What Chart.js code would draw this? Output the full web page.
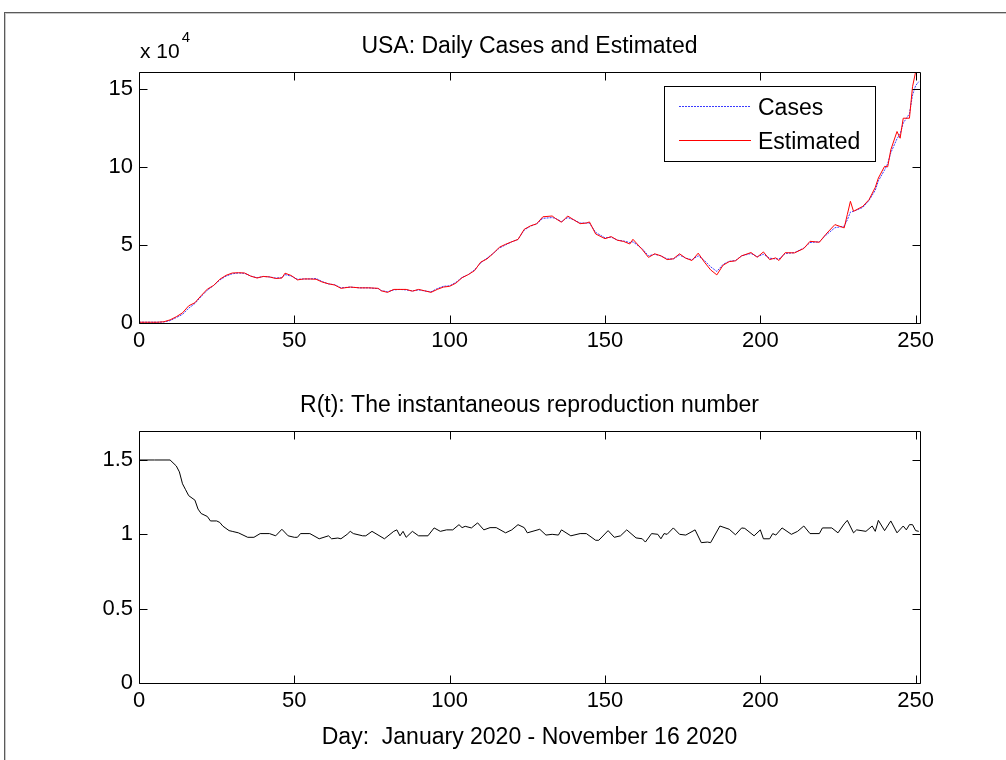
<!DOCTYPE html>
<html>
<head>
<meta charset="utf-8">
<script src="https://cdn.jsdelivr.net/npm/chart.js@4.4.1/dist/chart.umd.min.js"></script>
<style>
  html, body { margin: 0; padding: 0; background: #fff; }
  #page { position: relative; width: 1006px; height: 760px; overflow: hidden; background: #fff; }
  #frame { position: absolute; left: 4px; top: 12px; width: 1010px; height: 760px;
           border-left: 1px solid #5a5a5a; border-top: 1px solid #5a5a5a; }
  #frame-in { position: absolute; left: 0; top: 0; width: 100%; height: 100%;
              border-left: 1px solid #c8c8c8; border-top: 1px solid #c8c8c8; }
  canvas { position: absolute; left: 0; }
  #casesChart { top: 0; }
  #rtChart { top: 380px; }
</style>
</head>
<body>
<div id="page">
  <div id="frame"><div id="frame-in"></div></div>
  <canvas id="casesChart" width="1006" height="380"></canvas>
  <canvas id="rtChart" width="1006" height="380"></canvas>
</div>
<script>
// ==========================================
// DATA
// ==========================================
// top panel: daily cases, in units of 10^4
const caseDays = [0,2,4,6,8,10,12,14,16,18,20,22,24,26,28,30,32,34,36,38,40,42,44,46,47,49,51,53,55,57,59,61,63,65,68,71,74,77,78,80,82,84,86,88,90,92,94,96,98,100,102,104,106,108,110,112,114,116,118,120,122,124,126,128,130,133,134,136,138,140,142,144,145,147,150,152,154,156,158,159,162,164,166,168,170,172,174,176,178,180,182,184,186,188,190,192,194,197,199,201,203,205,206,208,211,214,216,219,221,224,227,228,229,230,233,235,237,238,240,241,242,244,245,246,248,249,250,251];

const casesE4 = [0.05,0.05,0.05,0.05,0.07,0.15,0.35,0.55,0.95,1.25,1.7,2.1,2.4,2.75,3.0,3.15,3.2,3.18,3.0,2.9,2.98,2.95,2.88,2.9,3.1,3.0,2.8,2.82,2.82,2.85,2.65,2.5,2.45,2.25,2.3,2.25,2.25,2.2,2.08,2.0,2.12,2.15,2.12,2.05,2.12,2.05,2.0,2.2,2.35,2.38,2.6,2.92,3.1,3.4,3.85,4.15,4.45,4.8,5.0,5.2,5.35,5.95,6.2,6.35,6.7,6.75,6.7,6.5,6.75,6.6,6.4,6.4,6.4,5.8,5.45,5.5,5.3,5.25,5.15,5.2,4.75,4.3,4.4,4.3,4.1,4.1,4.35,4.15,4.05,4.3,4.0,3.6,3.3,3.75,3.95,4.0,4.3,4.45,4.25,4.4,4.15,4.1,4.1,4.45,4.5,4.8,5.15,5.2,5.6,6.1,6.2,6.6,7.1,7.15,7.4,7.85,8.5,9.1,9.8,10.2,10.9,11.8,12.1,12.8,13.4,14.6,15.2,15.45];

const estimatedE4 = [0.05,0.05,0.05,0.05,0.08,0.2,0.4,0.65,1.1,1.3,1.75,2.17,2.4,2.8,3.05,3.2,3.22,3.2,3.0,2.88,2.98,2.95,2.85,2.88,3.19,3.04,2.76,2.82,2.82,2.8,2.62,2.51,2.43,2.22,2.3,2.25,2.25,2.22,2.06,1.96,2.15,2.15,2.15,2.04,2.15,2.06,1.96,2.15,2.3,2.35,2.55,2.9,3.1,3.35,3.9,4.1,4.45,4.85,5.04,5.2,5.35,6.0,6.22,6.35,6.8,6.85,6.7,6.45,6.85,6.6,6.36,6.4,6.47,5.7,5.4,5.53,5.3,5.22,5.06,5.36,4.7,4.2,4.43,4.3,4.06,4.11,4.43,4.15,4.0,4.47,3.9,3.4,3.08,3.7,3.93,3.98,4.3,4.51,4.21,4.55,4.06,4.17,4.0,4.5,4.49,4.77,5.23,5.17,5.66,6.3,6.09,6.94,7.79,7.15,7.47,7.9,8.68,9.28,10.03,10.0,11.09,12.26,11.83,13.11,13.11,15.13,16.09,16.1];

// bottom panel: R(t)
const rDays = [0,5,10,12,13,14,15,16,18,19,20,22,23,25,26,27,29,30,32,35,37,39,42,44,46,48,50,51,52,55,58,61,62,64,65,67,68,69,72,73,75,79,82,83,84,85,86,88,90,93,95,97,99,101,103,104,105,107,109,111,113,115,118,120,122,124,125,129,131,133,135,136,139,142,144,147,148,151,153,155,157,160,162,163,165,167,168,169,170,172,174,176,179,181,183,184,187,190,192,194,195,198,200,201,203,204,205,207,210,212,214,216,219,220,223,225,227,228,230,231,234,236,237,238,240,242,244,246,247,248,249,250,251];

const rValues = [1.5,1.5,1.5,1.46,1.42,1.34,1.3,1.26,1.23,1.17,1.14,1.12,1.09,1.09,1.08,1.055,1.025,1.02,1.01,0.98,0.98,1.005,1.005,0.99,1.034,0.99,0.98,0.98,1.005,1.005,0.97,0.99,0.97,0.975,0.97,1.0,1.02,1.005,0.99,0.99,1.02,0.97,1.02,1.03,0.99,1.02,0.98,1.02,0.99,0.99,1.043,1.02,1.03,1.03,1.065,1.045,1.054,1.043,1.077,1.03,1.045,1.045,1.01,1.03,1.065,1.045,1.01,1.034,0.995,1.0,0.995,1.03,0.99,1.005,1.005,0.96,0.96,1.025,0.98,0.99,1.03,0.976,0.97,0.948,1.005,1.0,0.97,1.005,1.0,1.043,1.0,0.995,1.03,0.944,0.948,0.944,1.056,1.034,0.997,1.043,1.04,0.99,1.03,0.97,0.97,1.005,0.995,1.043,1.0,1.02,1.056,1.005,1.005,1.043,1.043,1.01,1.07,1.094,1.01,1.03,1.02,1.056,1.02,1.094,1.025,1.09,1.01,1.056,1.03,1.065,1.065,1.025,1.02];

// axes / ticks
const dayTicks = [0, 50, 100, 150, 200, 250];
const caseTicks = [0, 5, 10, 15];
const caseTickLabels = ['0', '5', '10', '15'];
const rTicks = [0, 0.5, 1, 1.5];
const rTickLabels = ['0', '0.5', '1', '1.5'];

const casesTitle = 'USA: Daily Cases and Estimated';
const rTitle = 'R(t): The instantaneous reproduction number';
const dayLabel = 'Day:  January 2020 - November 16 2020';
const legendLabels = ['Cases', 'Estimated'];

// ==========================================
// STYLE
// ==========================================
const FONT = '"Liberation Sans", Arial, Helvetica, sans-serif';
const TICK_LEN = 8;
const DAY_MAX = 251.4;

// MATLAB-like box, inward ticks on all sides, and title
const matlabBox = {
    id: 'matlabBox',
    afterDatasetsDraw(chart, args, opts) {
        const { ctx, chartArea: a, scales: { x, y } } = chart;
        const L = Math.round(a.left) + 0.5, R = Math.round(a.right) + 0.5;
        const T = Math.round(a.top) + 0.5, B = Math.round(a.bottom) + 0.5;
        ctx.save();
        ctx.strokeStyle = '#000';
        ctx.lineWidth = 1;
        ctx.beginPath();
        ctx.rect(L, T, R - L, B - T);
        x.ticks.forEach(t => {
            const px = Math.round(x.getPixelForValue(t.value)) + 0.5;
            ctx.moveTo(px, B); ctx.lineTo(px, B - TICK_LEN);
            ctx.moveTo(px, T); ctx.lineTo(px, T + TICK_LEN);
        });
        y.ticks.forEach(t => {
            const py = Math.round(y.getPixelForValue(t.value)) + 0.5;
            ctx.moveTo(L, py); ctx.lineTo(L + TICK_LEN, py);
            ctx.moveTo(R, py); ctx.lineTo(R - TICK_LEN, py);
        });
        ctx.stroke();

        ctx.fillStyle = '#000';
        ctx.textAlign = 'center';
        ctx.textBaseline = 'alphabetic';
        ctx.font = `23px ${FONT}`;
        ctx.fillText(opts.title, (a.left + a.right) / 2, a.top - 19.5);

        if (opts.exponent) {
            // "x 10^4" multiplier above the y axis
            ctx.textAlign = 'left';
            ctx.font = `21px ${FONT}`;
            ctx.fillText('x 10', a.left + 1, a.top - 14);
            const w = ctx.measureText('x 10').width;
            ctx.font = `15px ${FONT}`;
            ctx.fillText(opts.exponent, a.left + 3 + w, a.top - 30);
        }
        ctx.restore();
    }
};

// boxed legend in the upper right of the cases panel
const boxLegend = {
    id: 'boxLegend',
    afterDraw(chart, args, opts) {
        if (!opts.display) return;
        const { ctx } = chart;
        const box = { x: 664.5, y: 86.5, w: 211, h: 75 };
        ctx.save();
        ctx.fillStyle = '#fff';
        ctx.fillRect(box.x, box.y, box.w, box.h);
        ctx.strokeStyle = '#000';
        ctx.lineWidth = 1;
        ctx.strokeRect(box.x, box.y, box.w, box.h);
        ctx.font = `23px ${FONT}`;
        ctx.textAlign = 'left';
        ctx.textBaseline = 'alphabetic';
        const rows = [106.5, 140.5];
        chart.data.datasets.forEach((ds, i) => {
            ctx.beginPath();
            ctx.strokeStyle = ds.borderColor;
            ctx.lineWidth = ds.borderWidth;
            ctx.setLineDash(ds.borderDash || []);
            ctx.moveTo(679, rows[i]);
            ctx.lineTo(751, rows[i]);
            ctx.stroke();
            ctx.setLineDash([]);
            ctx.fillStyle = '#000';
            ctx.fillText(ds.label, 758, rows[i] + 8.5);
        });
        ctx.restore();
    }
};

function xScale(height, withLabel) {
    return {
        type: 'linear',
        min: 0,
        max: DAY_MAX,
        afterBuildTicks: s => { s.ticks = dayTicks.map(v => ({ value: v })); },
        afterFit: s => { s.height = height; },
        grid: { display: false, drawTicks: false },
        border: { display: false },
        ticks: {
            color: '#000',
            padding: 5,
            maxRotation: 0,
            autoSkip: false,
            font: { family: FONT, size: 22 },
            callback: v => String(v)
        },
        title: {
            display: withLabel,
            text: dayLabel,
            color: '#000',
            font: { family: FONT, size: 23 },
            padding: { top: 0, bottom: 9 }
        }
    };
}

function yScale(max, tickVals, tickLabels) {
    return {
        type: 'linear',
        min: 0,
        max: max,
        afterBuildTicks: s => { s.ticks = tickVals.map(v => ({ value: v })); },
        afterFit: s => { s.width = 139; },
        grid: { display: false, drawTicks: false },
        border: { display: false },
        ticks: {
            color: '#000',
            padding: 6,
            autoSkip: false,
            font: { family: FONT, size: 22 },
            callback: (v, i) => tickLabels[i]
        }
    };
}

// ==========================================
// TOP PANEL: cases vs estimated
// ==========================================
new Chart(document.getElementById('casesChart'), {
    type: 'line',
    data: {
        datasets: [{
            label: legendLabels[0],
            data: caseDays.map((d, i) => ({ x: d, y: casesE4[i] })),
            borderColor: '#3a3aff',
            borderWidth: 1,
            borderDash: [2, 1],
            pointRadius: 0,
            tension: 0,
            order: 2
        }, {
            label: legendLabels[1],
            data: caseDays.map((d, i) => ({ x: d, y: estimatedE4[i] })),
            borderColor: '#ff0000',
            borderWidth: 1,
            pointRadius: 0,
            tension: 0,
            order: 1
        }]
    },
    options: {
        responsive: false,
        animation: false,
        devicePixelRatio: 1,
        layout: { padding: { left: 0, top: 72, right: 86, bottom: 0 } },
        plugins: {
            legend: { display: false },
            tooltip: { enabled: false },
            matlabBox: { title: casesTitle, exponent: '4' },
            boxLegend: { display: true }
        },
        scales: {
            x: xScale(57, false),
            y: yScale(16.07, caseTicks, caseTickLabels)
        }
    },
    plugins: [matlabBox, boxLegend]
});

// ==========================================
// BOTTOM PANEL: R(t)
// ==========================================
new Chart(document.getElementById('rtChart'), {
    type: 'line',
    data: {
        datasets: [{
            label: 'R(t)',
            data: rDays.map((d, i) => ({ x: d, y: rValues[i] })),
            borderColor: '#000',
            borderWidth: 1,
            pointRadius: 0,
            tension: 0
        }]
    },
    options: {
        responsive: false,
        animation: false,
        devicePixelRatio: 1,
        layout: { padding: { left: 0, top: 51, right: 86, bottom: 0 } },
        plugins: {
            legend: { display: false },
            tooltip: { enabled: false },
            matlabBox: { title: rTitle },
            boxLegend: { display: false }
        },
        scales: {
            x: xScale(77, true),
            y: yScale(1.695, rTicks, rTickLabels)
        }
    },
    plugins: [matlabBox, boxLegend]
});
</script>
</body>
</html>
